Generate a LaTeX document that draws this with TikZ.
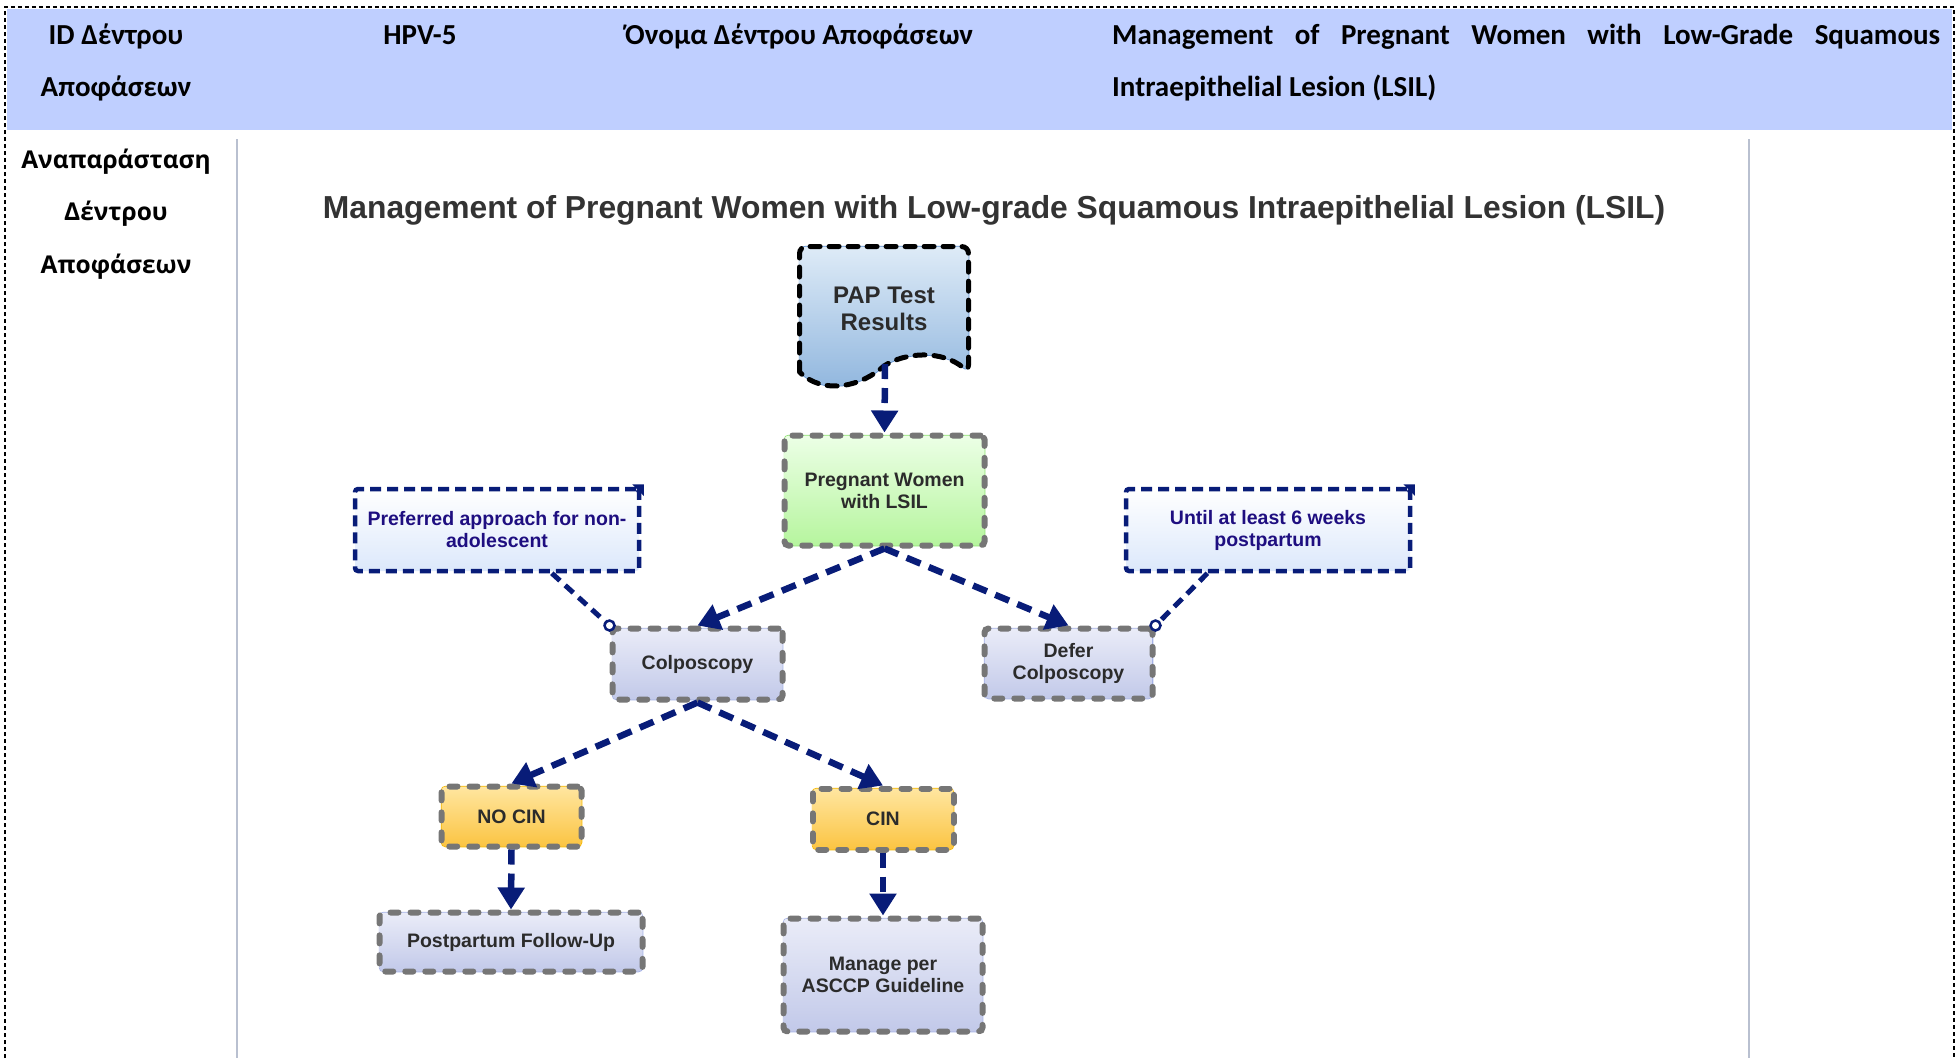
\documentclass[tikz,border=0pt]{standalone}
\usepackage{fontspec}
\usetikzlibrary{arrows.meta,calc}
\newfontfamily\hdrfont{Carlito}
\newfontfamily\sidefont{Open Sans}
\newfontfamily\diafont{Liberation Sans}

\definecolor{hdrblue}{RGB}{191,207,255}
\definecolor{sepgray}{RGB}{185,192,208}
\definecolor{navy}{RGB}{8,28,120}
\definecolor{notetxt}{RGB}{30,14,128}
\definecolor{boxgray}{RGB}{118,118,118}
\definecolor{txtdark}{RGB}{43,43,43}
\definecolor{titlegray}{RGB}{51,51,51}
\definecolor{greentop}{RGB}{236,255,230}
\definecolor{greenbot}{RGB}{182,245,158}
\definecolor{greenline}{RGB}{140,225,110}
\definecolor{lavtop}{RGB}{234,236,248}
\definecolor{lavmid}{RGB}{212,217,240}
\definecolor{lavbot}{RGB}{194,201,233}
\definecolor{lavline}{RGB}{165,178,230}
\definecolor{orgtop}{RGB}{255,230,160}
\definecolor{orgmid}{RGB}{253,210,100}
\definecolor{orgbot}{RGB}{251,196,66}
\definecolor{orgline}{RGB}{245,184,0}
\definecolor{paptop}{RGB}{222,235,247}
\definecolor{papbot}{RGB}{141,180,221}
\definecolor{papline}{RGB}{95,145,210}
\definecolor{notebot}{RGB}{220,232,251}

\begin{document}
\begin{tikzpicture}[x=1pt,y=-1pt,
  hdr/.style={inner sep=0pt, text=black, font=\hdrfont\bfseries\fontsize{29}{35}\selectfont},
  side/.style={inner sep=0pt, text=black, font=\sidefont\bfseries\fontsize{24.5}{30}\selectfont},
  flowbox/.style={rectangle, rounded corners=4pt, draw=boxgray, line width=6pt,
    dash pattern=on 8pt off 12pt, line cap=round, text=txtdark, align=center,
    inner sep=0pt, font=\diafont\bfseries\fontsize{19.5}{22}\selectfont},
  greenfill/.style={top color=greentop, bottom color=greenbot,
    preaction={draw=greenline, line width=1.5pt, solid}},
  lavfill/.style={top color=lavtop, middle color=lavmid, bottom color=lavbot,
    preaction={draw=lavline, line width=1.5pt, solid}},
  orgfill/.style={top color=orgtop, middle color=orgmid, bottom color=orgbot,
    preaction={draw=orgline, line width=1.5pt, solid}},
  notebox/.style={rectangle, rounded corners=3pt, draw=navy, line width=4.5pt,
    dash pattern=on 11pt off 6pt, top color=white, bottom color=notebot,
    text=notetxt, align=center, inner sep=0pt,
    font=\diafont\bfseries\fontsize{19.5}{22}\selectfont},
  flowarrow/.style={draw=navy, line width=6.5pt, dash pattern=on 15pt off 9pt,
    -{Triangle[length=22pt,width=26pt]}},
  notelink/.style={draw=navy, line width=5pt, dash pattern=on 11pt off 7pt},
  linkdot/.style={draw=navy, line width=2.5pt, fill=white}
]
\useasboundingbox (0,0) rectangle (1960,1058);

% header band, frame and column rules
\fill[hdrblue] (7,9) rectangle (1952,130);
\draw[black, line width=2pt, dash pattern=on 4pt off 3pt]
  (5,1058) -- (5,7) -- (1954,7) -- (1954,1058);
\draw[sepgray, line width=1.5pt] (237,139) -- (237,1058);
\draw[sepgray, line width=1.5pt] (1749,139) -- (1749,1058);

% header texts
\node[hdr, anchor=base] (hid1) at (116,44.5) {ID Δέντρου};
\node[hdr, anchor=base] (hid2) at (116,96.5) {Αποφάσεων};
\node[hdr, anchor=base] (hval) at (420,44.5) {HPV-5};
\node[hdr, anchor=base west] (hname) at (625,44.5) {Όνομα Δέντρου Αποφάσεων};
\node[hdr, anchor=base west] (hdesc1) at (1112,44.5)
  {\makebox[828pt][s]{Management of Pregnant Women with Low-Grade Squamous}};
\node[hdr, anchor=base west] (hdesc2) at (1112,96.5) {Intraepithelial Lesion (LSIL)};

% side label
\node[side, anchor=base] (s1) at (116,168) {Αναπαράσταση};
\node[side, anchor=base] (s2) at (116,220) {Δέντρου};
\node[side, anchor=base] (s3) at (116,273) {Αποφάσεων};

% diagram title
\node[inner sep=0pt, text=titlegray, font=\diafont\bfseries\fontsize{31.8}{36}\selectfont]
  (title) at (994,210) {Management of Pregnant Women with Low-grade Squamous Intraepithelial Lesion (LSIL)};

% document shape for the test results
\draw[top color=paptop, bottom color=papbot, draw=black, line width=5pt,
      dash pattern=on 10pt off 9pt, line cap=round,
      preaction={draw=papline, line width=1.5pt, solid}]
  (799.5,372) [rounded corners=7pt] -- (799.5,246.5) -- (968.5,246.5) -- (968.5,372) [sharp corners]
  .. controls (942,350) and (905,352) .. (884,366)
  .. controls (862,386) and (824,396) .. (799.5,372) -- cycle;
\node[inner sep=0pt, align=center, text=txtdark,
      font=\diafont\bfseries\fontsize{24}{27.5}\selectfont] (pap) at (884,309) {PAP Test\\Results};
\coordinate (papbottom) at (885,364);

% flow boxes
\node[flowbox, greenfill, minimum width=200pt, minimum height=110pt] (preg) at (884.5,490.5) {Pregnant Women\\with LSIL};
\node[flowbox, lavfill, minimum width=170pt, minimum height=71pt] (colpo) at (697.5,664) {Colposcopy};
\node[flowbox, lavfill, minimum width=168pt, minimum height=70pt] (defer) at (1068.5,663.5) {Defer\\Colposcopy};
\node[flowbox, orgfill, minimum width=140pt, minimum height=60pt] (nocin) at (511.5,816.5) {NO CIN};
\node[flowbox, orgfill, minimum width=141pt, minimum height=61pt] (cin) at (883,819) {CIN};
\node[flowbox, lavfill, minimum width=263pt, minimum height=59pt] (postp) at (511,942) {Postpartum Follow-Up};
\node[flowbox, lavfill, minimum width=199pt, minimum height=113pt] (manage) at (883,975) {Manage per\\ASCCP Guideline};

% notes
\node[notebox, minimum width=284pt, minimum height=82pt] (note1) at (497,530) {Preferred approach for non-\\adolescent};
\node[notebox, minimum width=284pt, minimum height=82pt] (note2) at (1268,530) {Until at least 6 weeks\\postpartum};
\foreach \n in {note1,note2}{
  \fill[navy] ($(\n.north east)+(-9,-2.5)$) -- ($(\n.north east)+(2.5,-2.5)$) -- ($(\n.north east)+(2.5,9)$) -- cycle;
}

% flow connectors
\draw[flowarrow] (papbottom) -- (preg.north);
\draw[flowarrow] (preg.south) -- (colpo.north);
\draw[flowarrow] (preg.south) -- (defer.north);
\draw[flowarrow] (colpo.south) -- (nocin.north);
\draw[flowarrow] (colpo.south) -- (cin.north);
\draw[flowarrow] (nocin.south) -- (postp.north);
\draw[flowarrow] (cin.south) -- (manage.north);

% note links
\coordinate (n1foot) at ($(note1.south west)!0.69!(note1.south east)$);
\coordinate (n2foot) at ($(note2.south west)!0.29!(note2.south east)$);
\draw[notelink] (n1foot) -- (colpo.north west);
\draw[notelink] (n2foot) -- (defer.north east);
\draw[linkdot] (colpo.north west) circle (5pt);
\draw[linkdot] (defer.north east) circle (5pt);
\end{tikzpicture}
\end{document}
